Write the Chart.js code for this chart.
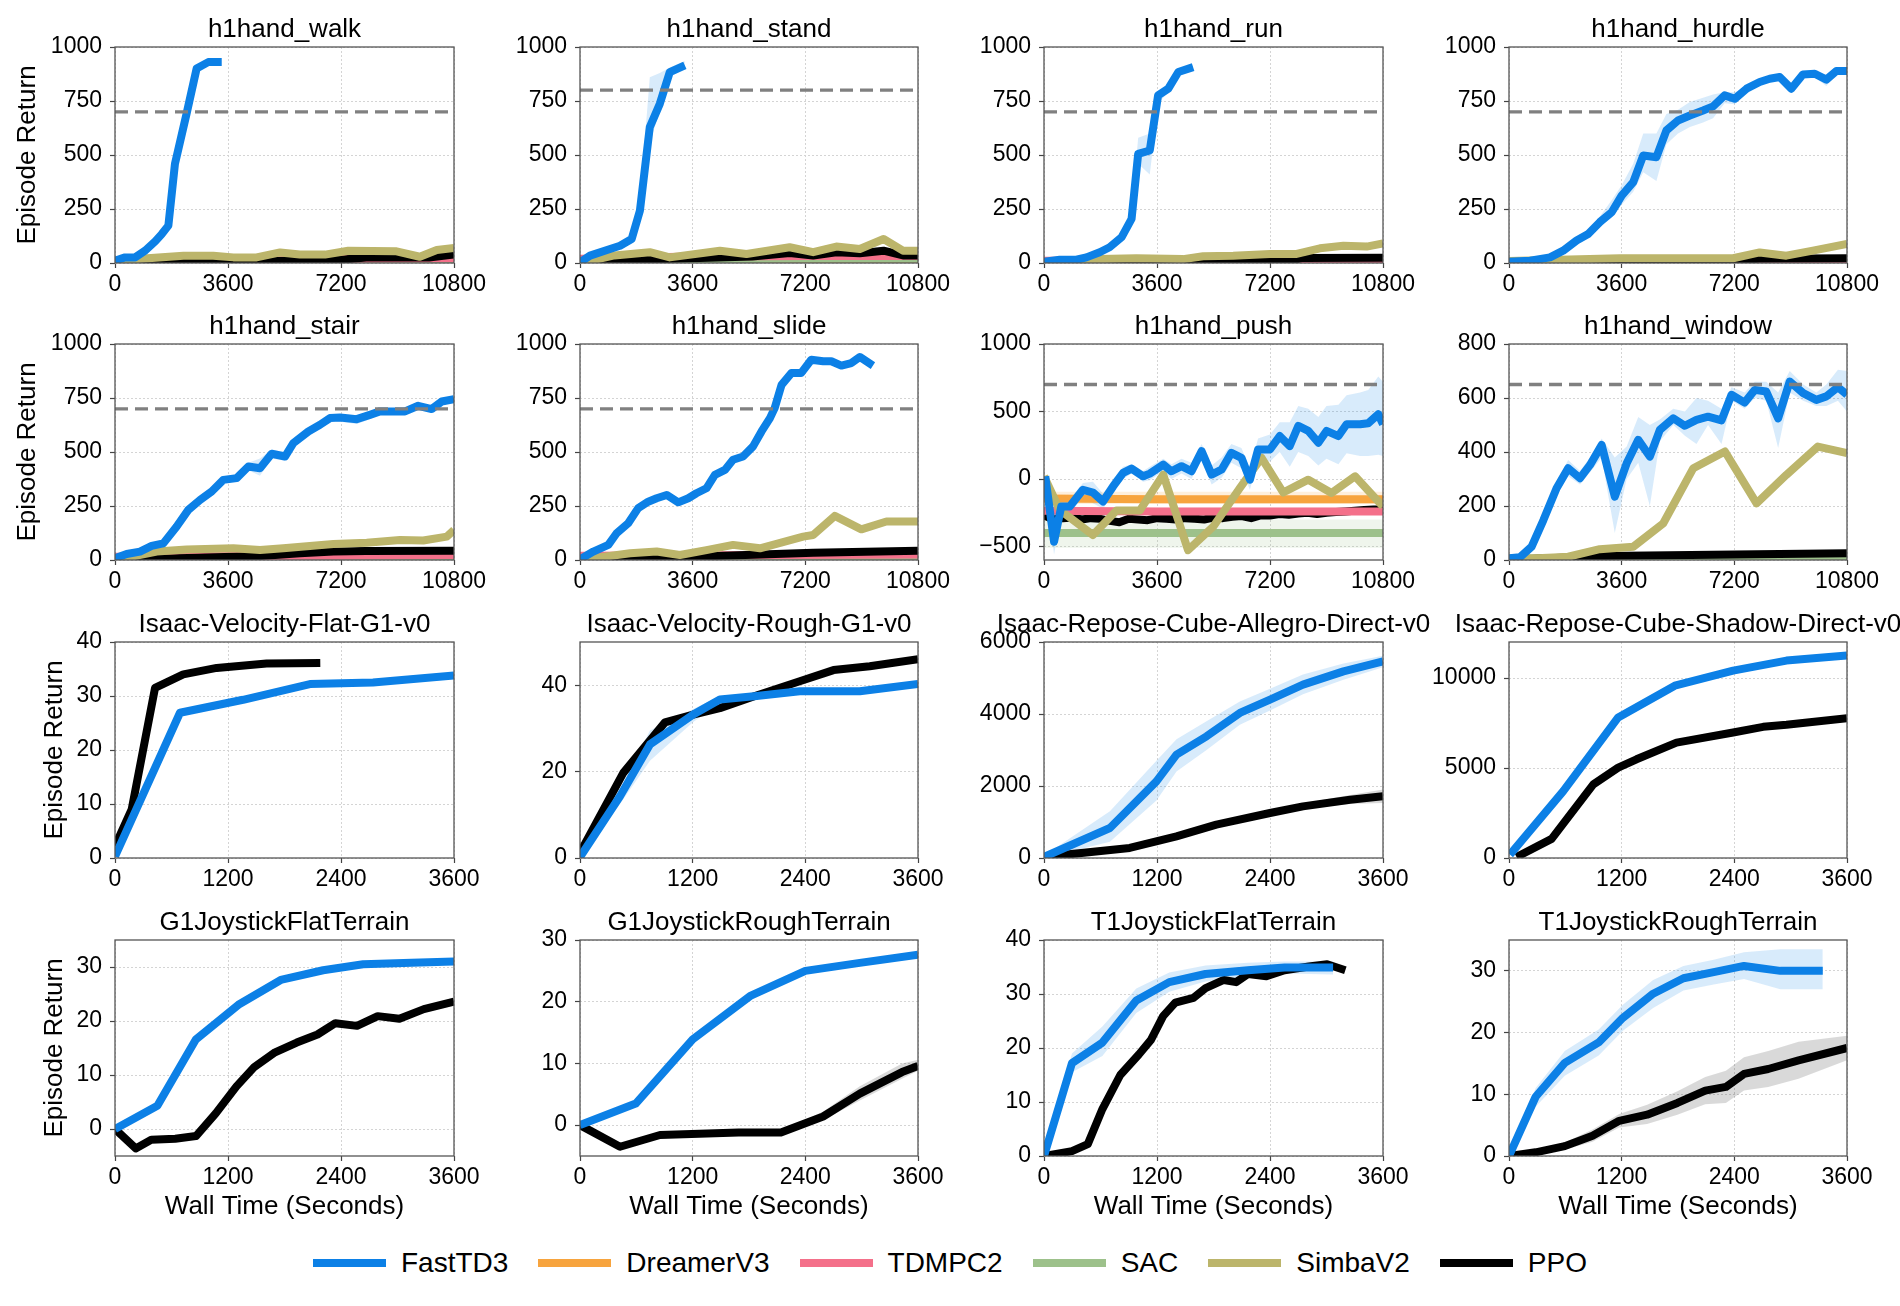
<!DOCTYPE html>
<html><head><meta charset="utf-8">
<script src="https://cdn.jsdelivr.net/npm/chart.js@4.4.1/dist/chart.umd.min.js"></script>
<style>
html,body{margin:0;padding:0;background:#fff;width:1900px;height:1306px;overflow:hidden;position:relative;font-family:"Liberation Sans",Arial,sans-serif}
canvas{position:absolute}
#legend{position:absolute;left:0;top:1243px;width:1900px;height:40px;display:flex;justify-content:center;align-items:center;font-size:28px;color:#000}
#legend .it{display:flex;align-items:center;margin:0 15px}
#legend i{display:inline-block;width:73px;height:8px;margin-right:15px}
</style></head><body>
<div id="legend"></div>
<script>
// ---------- categories / styling keys ----------
const SERIES = ['FastTD3','DreamerV3','TDMPC2','SAC','SimbaV2','PPO'];
const COLORS = {FastTD3:'#0c80e6',DreamerV3:'#f7a43e',TDMPC2:'#f4708a',SAC:'#9dc18b',SimbaV2:'#bcb56b',PPO:'#000000'};
const BANDS = {FastTD3:'rgba(12,128,230,0.16)',DreamerV3:'rgba(247,164,62,0.18)',TDMPC2:'rgba(244,112,138,0.16)',SAC:'rgba(157,193,139,0.16)',SimbaV2:'rgba(188,181,107,0.16)',PPO:'rgba(0,0,0,0.15)'};

// ---------- tick labels ----------
const X_LONG = [0,3600,7200,10800];
const X_SHORT = [0,1200,2400,3600];
const Y_1000 = [0,250,500,750,1000];
const Y_PUSH = [-500,0,500,1000];
const Y_800 = [0,200,400,600,800];
const Y_40 = [0,10,20,30,40];
const Y_ROUGH = [0,20,40];
const Y_ALLEGRO = [0,2000,4000,6000];
const Y_SHADOW = [0,5000,10000];
const Y_30 = [0,10,20,30];

// ---------- h1hand_walk ----------
const walk_fast_t = [0,320,640,960,1280,1490,1700,1910,2280,2600,2970,3400];
const walk_fast   = [11,26,26,57,100,134,173,459,691,900,930,930];
const walk_simba_t = [0,690,2180,3130,3770,4510,5260,5890,6690,7430,8970,9710,10250,10800];
const walk_simba   = [5,18,34,34,26,26,49,39,39,57,54,29,60,70];
const walk_ppo_t = [0,3600,7200,8000,9000,10000,10800];
const walk_ppo   = [0,5,15,25,25,25,40];
const walk_low_t = [0,3600,7200,10800];
const walk_tdmpc2 = [5,8,20,22];
const walk_sac = [4,5,8,10];
const walk_dreamer = [2,3,5,6];

// ---------- h1hand_stand ----------
const stand_fast_t = [0,320,960,1280,1650,1915,2230,2550,2870,3350];
const stand_fast   = [3,34,65,80,111,243,629,737,884,915];
const stand_fast_hi = [5,40,70,88,125,290,860,880,905,935];
const stand_fast_lo = [0,28,60,72,100,220,560,700,860,900];
const stand_simba_t = [0,1100,2230,2870,4470,5320,6700,7450,8190,8940,9700,10320,10800];
const stand_simba   = [0,35,50,26,57,42,73,50,76,65,111,57,57];
const stand_ppo_t = [0,3000,5500,6700,7450,8190,8940,9700,10320,10800];
const stand_ppo   = [0,20,30,46,35,50,45,57,35,35];
const stand_low_t = [0,3600,7200,10800];
const stand_tdmpc2 = [20,30,32,32];
const stand_sac = [15,18,20,20];
const stand_dreamer = [8,10,12,12];

// ---------- h1hand_run ----------
const run_fast_t = [0,500,1030,1350,1775,2090,2470,2790,3000,3370,3635,3960,4280,4750];
const run_fast   = [6,15,15,26,50,73,119,204,505,521,776,807,884,907];
const run_fast_hi = [8,18,18,30,55,80,130,230,580,600,790,830,895,915];
const run_fast_lo = [4,12,12,22,45,66,108,180,460,410,740,790,870,900];
const run_simba_t = [0,1775,2940,4430,5070,6030,7200,8050,8790,9540,10280,10800];
const run_simba   = [0,18,22,18,31,34,42,42,68,80,76,91];
const run_ppo_t = [0,4000,8000,8200,10800];
const run_ppo   = [0,10,15,23,24];
const run_low_t = [0,10800];
const run_tdmpc2 = [10,15];
const run_sac = [5,10];
const run_dreamer = [3,6];

// ---------- h1hand_hurdle ----------
const hurdle_fast_t = [0,670,1310,1730,2160,2530,2900,3280,3600,3970,4290,4710,5030,5400,5780,6200,6520,6890,7210,7590,8010,8330,8650,9020,9390,9770,10140,10460,10800];
const hurdle_fast   = [6,11,26,57,104,134,189,235,312,374,498,490,614,660,683,706,725,776,760,807,838,853,861,807,873,876,849,889,889];
const hurdle_fast_hi = [8,14,30,62,112,150,215,290,360,460,600,600,690,710,745,765,780,790,790,815,850,865,870,830,885,885,870,900,900];
const hurdle_fast_lo = [4,8,22,52,96,125,170,210,270,330,420,380,550,600,630,650,670,740,735,790,825,845,850,790,860,860,820,880,880];
const hurdle_simba_t = [0,3540,7160,8010,8860,9710,10800];
const hurdle_simba   = [9,22,22,49,34,57,88];
const hurdle_ppo_t = [0,7200,8000,10800];
const hurdle_ppo   = [0,10,20,22];
const hurdle_low_t = [0,10800];
const hurdle_tdmpc2 = [8,15];
const hurdle_sac = [5,10];
const hurdle_dreamer = [3,5];

// ---------- h1hand_stair ----------
const stair_fast_t = [0,372,796,1168,1540,1965,2336,2708,3080,3451,3876,4248,4619,4991,5416,5681,6159,6531,6850,7170,7700,8120,8440,9240,9660,10090,10410,10800];
const stair_fast   = [8,28,39,65,77,155,232,278,317,371,379,433,425,492,479,541,595,626,657,660,652,672,688,688,714,699,734,745];
const stair_fast_hi = [10,32,44,70,82,170,250,300,340,385,395,450,470,510,500,560,610,640,670,675,670,690,700,705,725,712,745,755];
const stair_fast_lo = [6,24,34,60,72,140,215,260,295,355,365,415,390,470,460,520,580,612,640,640,630,652,672,672,702,688,722,735];
const stair_simba_t = [0,1330,2280,3770,4620,5360,6960,8020,9080,9820,10570,10800];
const stair_simba   = [0,39,49,54,46,54,74,80,93,90,108,139];
const stair_ppo_t = [0,3770,4600,5890,6960,8000,10800];
const stair_ppo   = [0,15,18,31,39,42,43];
const stair_low_t = [0,10800];
const stair_tdmpc2 = [15,23];
const stair_sac = [12,15];
const stair_dreamer = [5,8];

// ---------- h1hand_slide ----------
const slide_fast_t = [0,425,905,1170,1540,1860,2180,2450,2770,3140,3460,3720,4040,4310,4630,4890,5210,5530,5800,6070,6220,6440,6760,7070,7390,7770,8030,8350,8670,8940,9360];
const slide_fast   = [3,39,70,124,170,240,270,286,301,267,286,309,332,394,417,464,479,526,595,657,703,811,866,866,927,920,920,900,912,940,900];
const slide_simba_t = [0,1600,2450,3190,4040,4890,5750,7130,7450,8140,8990,9790,10800];
const slide_simba   = [0,31,39,23,46,70,54,108,116,204,142,178,178];
const slide_ppo_t = [0,3620,7450,10800];
const slide_ppo   = [0,15,34,43];
const slide_low_t = [0,10800];
const slide_tdmpc2 = [20,25];
const slide_sac = [12,15];
const slide_dreamer = [5,7];

// ---------- h1hand_push ----------
const push_fast_t = [40,320,550,820,1240,1560,1880,2200,2520,2790,3160,3370,3800,4060,4380,4700,5020,5340,5660,5970,6290,6560,6820,7200,7510,7830,8100,8420,8740,9000,9380,9640,10070,10330,10650,10800];
const push_fast   = [20,-465,-204,-204,-80,-100,-167,-55,45,77,20,40,107,57,95,57,206,32,70,194,157,-5,219,219,318,244,393,356,269,356,318,405,405,413,480,405];
const push_fast_hi = [40,-380,-150,-150,-30,-20,-110,0,90,110,60,90,150,110,150,120,260,100,160,260,230,80,300,330,420,420,540,520,460,540,550,620,640,660,760,720];
const push_fast_lo = [0,-560,-260,-260,-130,-180,-220,-110,0,40,-20,-10,60,0,40,0,150,-40,10,120,80,-80,140,130,200,90,200,170,100,150,110,190,170,170,180,170];
const push_simba_t = [0,500,1560,2310,3050,3800,4590,5390,6240,6930,7620,8420,9160,9910,10800];
const push_simba   = [20,-229,-415,-234,-234,32,-527,-353,-67,157,-100,-5,-104,20,-204];
const push_flat_t = [0,3600,7200,10800];
const push_dreamer    = [-145,-150,-150,-150];
const push_dreamer_hi = [-95,-95,-95,-95];
const push_dreamer_lo = [-185,-185,-185,-185];
const push_tdmpc2    = [-235,-240,-240,-240];
const push_tdmpc2_hi = [-210,-212,-212,-212];
const push_tdmpc2_lo = [-265,-265,-265,-265];
const push_sac    = [-400,-400,-400,-400];
const push_sac_hi = [-300,-300,-300,-300];
const push_sac_lo = [-510,-510,-510,-510];
const push_ppo_t = [0,300,600,900,1200,1500,1800,2100,2400,2700,3000,3300,3600,3900,4200,4500,4800,5100,5400,5700,6000,6300,6600,6900,7200,7500,7800,8100,8400,8700,9000,9300,9600,9900,10200,10500,10800];
const push_ppo   = [-270,-300,-290,-285,-300,-290,-295,-310,-320,-295,-300,-305,-290,-295,-300,-290,-295,-300,-285,-290,-280,-275,-290,-270,-270,-260,-265,-255,-250,-260,-250,-245,-240,-235,-230,-225,-225];

// ---------- h1hand_window ----------
const window_fast_t = [0,350,720,1100,1520,1890,2270,2590,2960,3380,3760,4130,4500,4820,5250,5620,5990,6360,6790,7110,7530,7850,8220,8600,8970,9400,9820,10140,10510,10800];
const window_fast   = [6,10,49,148,266,340,303,352,426,235,358,445,383,482,525,497,519,531,517,612,583,630,624,525,661,618,593,606,640,612];
const window_fast_hi = [8,14,60,170,290,370,330,380,450,380,420,530,500,520,560,550,600,590,560,640,620,660,660,620,700,650,620,650,705,700];
const window_fast_lo = [4,6,40,130,240,310,280,325,380,100,300,360,200,440,500,460,430,500,430,590,560,600,590,415,620,590,570,570,590,550];
const window_simba_t = [0,1420,1890,2900,3970,4930,5890,6900,7910,8860,9870,10800];
const window_simba   = [2,9,12,40,49,136,340,402,210,315,420,396];
const window_ppo_t = [0,3000,7200,10800];
const window_ppo   = [0,15,20,25];
const window_low_t = [0,10800];
const window_tdmpc2 = [5,10];
const window_sac = [6,14];
const window_dreamer = [3,6];

// ---------- Isaac-Velocity-Flat-G1-v0 ----------
const iflat_fast_t = [0,690,1360,2070,2740,3600];
const iflat_fast   = [0.3,26.9,29.3,32.2,32.5,33.8];
const iflat_ppo_t = [0,177,425,725,1080,1610,2180];
const iflat_ppo   = [2.2,9,31.5,34,35.2,36,36.1];

// ---------- Isaac-Velocity-Rough-G1-v0 ----------
const irough_fast_t = [0,426,745,1206,1490,1880,2340,2980,3600];
const irough_fast   = [0.2,14.3,26.3,33.2,36.7,37.5,38.6,38.6,40.3];
const irough_fast_hi = [0.5,16,29.5,34.5,37.5,38.2,39.2,39.2,40.8];
const irough_fast_lo = [0,12.5,22.5,31.5,35.8,36.8,38,38,39.8];
const irough_ppo_t = [0,461,905,1206,1490,1880,2340,2700,3086,3600];
const irough_ppo   = [1.2,19.7,31.4,33.2,34.7,37.6,40.9,43.5,44.4,46];

// ---------- Isaac-Repose-Cube-Allegro-Direct-v0 ----------
const allegro_fast_t = [0,700,1194,1407,1726,2080,2400,2750,3180,3600];
const allegro_fast   = [28,833,2130,2870,3380,4030,4400,4815,5185,5460];
const allegro_fast_hi = [60,1300,2700,3300,3800,4350,4700,5100,5400,5620];
const allegro_fast_lo = [0,450,1600,2400,3000,3700,4100,4550,4950,5300];
const allegro_ppo_t = [60,910,1407,1830,2400,2750,3250,3600];
const allegro_ppo   = [46,278,602,926,1250,1435,1620,1713];
const allegro_ppo_hi = [60,300,640,960,1300,1520,1750,1900];
const allegro_ppo_lo = [30,250,570,890,1200,1370,1500,1530];

// ---------- Isaac-Repose-Cube-Shadow-Direct-v0 ----------
const shadow_fast_t = [10,578,1163,1766,2387,2955,3600];
const shadow_fast   = [186,3717,7807,9572,10409,10967,11245];
const shadow_ppo_t = [80,454,898,1163,1358,1784,2387,2707,2955,3600];
const shadow_ppo   = [56,1060,4089,5019,5483,6413,6970,7286,7398,7770];

// ---------- G1JoystickFlatTerrain ----------
const g1flat_fast_t = [0,450,860,1310,1760,2210,2635,3150,3600];
const g1flat_fast   = [0,4.3,16.6,23,27.6,29.4,30.5,30.8,31];
const g1flat_ppo_t = [0,220,385,640,860,1070,1290,1480,1700,1930,2150,2340,2570,2790,3020,3280,3600];
const g1flat_ppo   = [0,-3.6,-2,-1.8,-1.3,2.9,7.9,11.5,14.2,16,17.5,19.6,19.1,20.9,20.4,22.2,23.6];

// ---------- G1JoystickRoughTerrain ----------
const g1rough_fast_t = [0,594,1200,1820,2400,2980,3600];
const g1rough_fast   = [0,3.5,13.9,21,25,26.3,27.6];
const g1rough_ppo_t = [0,426,852,1690,2140,2590,2980,3430,3600];
const g1rough_ppo   = [0,-3.5,-1.6,-1.2,-1.2,1.4,5.1,8.6,9.6];
const g1rough_ppo_hi = [0,-3.3,-1.4,-1,-1,2.2,6.3,10,10.6];
const g1rough_ppo_lo = [0,-3.7,-1.8,-1.4,-1.4,0.8,4,7.5,8.8];

// ---------- T1JoystickFlatTerrain ----------
const t1flat_fast_t = [0,297,620,980,1330,1715,2165,2555,3070];
const t1flat_fast   = [0,17.2,21,28.8,32.2,33.7,34.4,34.9,34.9];
const t1flat_fast_hi = [0.5,19,24,31,34,35.3,35.8,36,36];
const t1flat_fast_lo = [0,15.5,18.5,26.5,30.4,32.3,33,33.8,33.6];
const t1flat_ppo_t = [0,297,465,620,810,1007,1136,1265,1394,1587,1716,1910,2040,2168,2362,2555,2813,3007,3200];
const t1flat_ppo   = [0,0.9,2.2,8.7,15,18.8,21.5,25.9,28.4,29.3,31.1,32.6,32.2,33.7,33.3,34.4,35.1,35.5,34.4];

// ---------- T1JoystickRoughTerrain ----------
const t1rough_fast_t = [0,284,594,955,1213,1535,1858,2180,2503,2890,3342];
const t1rough_fast   = [0,9.6,15.1,18.4,22.4,26.3,28.8,29.8,30.8,30,30];
const t1rough_fast_hi = [0.5,11,17,20.5,24.5,28.5,30.8,31.8,33,33.5,33.5];
const t1rough_fast_lo = [0,8,13,16.3,20.3,24,26.8,27.8,28.7,27,27];
const t1rough_ppo_t = [0,284,594,890,1174,1471,1794,2090,2310,2503,2761,3084,3600];
const t1rough_ppo   = [0,0.6,1.6,3.3,5.7,6.7,8.6,10.6,11.2,13.3,14.1,15.5,17.5];
const t1rough_ppo_hi = [0.2,1,2.2,4.3,6.8,8.3,10.5,12.8,13.8,16,17,18.5,19.5];
const t1rough_ppo_lo = [0,0.2,1,2.3,4.6,5.2,6.7,8.4,8.6,10.6,11.2,12.5,15.5];

// ---------- panels (built from the arrays above); lines listed top-most first ----------
const F='FastTD3',D='DreamerV3',T='TDMPC2',S='SAC',Sb='SimbaV2',P='PPO';
const panels = [
 {title:'h1hand_walk',col:0,row:0,xt:X_LONG,ymin:0,ymax:1000,yt:Y_1000,ref:700,
  lines:[[F,walk_fast_t,walk_fast],[Sb,walk_simba_t,walk_simba],[P,walk_ppo_t,walk_ppo],[T,walk_low_t,walk_tdmpc2],[S,walk_low_t,walk_sac],[D,walk_low_t,walk_dreamer]],bands:[]},
 {title:'h1hand_stand',col:1,row:0,xt:X_LONG,ymin:0,ymax:1000,yt:Y_1000,ref:800,
  lines:[[F,stand_fast_t,stand_fast],[Sb,stand_simba_t,stand_simba],[P,stand_ppo_t,stand_ppo],[T,stand_low_t,stand_tdmpc2],[S,stand_low_t,stand_sac],[D,stand_low_t,stand_dreamer]],
  bands:[[F,stand_fast_t,stand_fast_lo,stand_fast_hi]]},
 {title:'h1hand_run',col:2,row:0,xt:X_LONG,ymin:0,ymax:1000,yt:Y_1000,ref:700,
  lines:[[F,run_fast_t,run_fast],[Sb,run_simba_t,run_simba],[P,run_ppo_t,run_ppo],[T,run_low_t,run_tdmpc2],[S,run_low_t,run_sac],[D,run_low_t,run_dreamer]],
  bands:[[F,run_fast_t,run_fast_lo,run_fast_hi]]},
 {title:'h1hand_hurdle',col:3,row:0,xt:X_LONG,ymin:0,ymax:1000,yt:Y_1000,ref:700,
  lines:[[F,hurdle_fast_t,hurdle_fast],[Sb,hurdle_simba_t,hurdle_simba],[P,hurdle_ppo_t,hurdle_ppo],[T,hurdle_low_t,hurdle_tdmpc2],[S,hurdle_low_t,hurdle_sac],[D,hurdle_low_t,hurdle_dreamer]],
  bands:[[F,hurdle_fast_t,hurdle_fast_lo,hurdle_fast_hi]]},
 {title:'h1hand_stair',col:0,row:1,xt:X_LONG,ymin:0,ymax:1000,yt:Y_1000,ref:700,
  lines:[[F,stair_fast_t,stair_fast],[Sb,stair_simba_t,stair_simba],[P,stair_ppo_t,stair_ppo],[T,stair_low_t,stair_tdmpc2],[S,stair_low_t,stair_sac],[D,stair_low_t,stair_dreamer]],
  bands:[[F,stair_fast_t,stair_fast_lo,stair_fast_hi]]},
 {title:'h1hand_slide',col:1,row:1,xt:X_LONG,ymin:0,ymax:1000,yt:Y_1000,ref:700,
  lines:[[F,slide_fast_t,slide_fast],[Sb,slide_simba_t,slide_simba],[P,slide_ppo_t,slide_ppo],[T,slide_low_t,slide_tdmpc2],[S,slide_low_t,slide_sac],[D,slide_low_t,slide_dreamer]],bands:[]},
 {title:'h1hand_push',col:2,row:1,xt:X_LONG,ymin:-600,ymax:1000,yt:Y_PUSH,ref:700,
  lines:[[F,push_fast_t,push_fast],[Sb,push_simba_t,push_simba],[D,push_flat_t,push_dreamer],[T,push_flat_t,push_tdmpc2],[P,push_ppo_t,push_ppo],[S,push_flat_t,push_sac]],
  bands:[[F,push_fast_t,push_fast_lo,push_fast_hi],[D,push_flat_t,push_dreamer_lo,push_dreamer_hi],[T,push_flat_t,push_tdmpc2_lo,push_tdmpc2_hi],[S,push_flat_t,push_sac_lo,push_sac_hi]]},
 {title:'h1hand_window',col:3,row:1,xt:X_LONG,ymin:0,ymax:800,yt:Y_800,ref:650,
  lines:[[F,window_fast_t,window_fast],[Sb,window_simba_t,window_simba],[P,window_ppo_t,window_ppo],[S,window_low_t,window_sac],[T,window_low_t,window_tdmpc2],[D,window_low_t,window_dreamer]],
  bands:[[F,window_fast_t,window_fast_lo,window_fast_hi]]},
 {title:'Isaac-Velocity-Flat-G1-v0',col:0,row:2,xt:X_SHORT,ymin:0,ymax:40,yt:Y_40,
  lines:[[F,iflat_fast_t,iflat_fast],[P,iflat_ppo_t,iflat_ppo]],bands:[]},
 {title:'Isaac-Velocity-Rough-G1-v0',col:1,row:2,xt:X_SHORT,ymin:0,ymax:50,yt:Y_ROUGH,
  lines:[[F,irough_fast_t,irough_fast],[P,irough_ppo_t,irough_ppo]],bands:[[F,irough_fast_t,irough_fast_lo,irough_fast_hi]]},
 {title:'Isaac-Repose-Cube-Allegro-Direct-v0',col:2,row:2,xt:X_SHORT,ymin:0,ymax:6000,yt:Y_ALLEGRO,
  lines:[[F,allegro_fast_t,allegro_fast],[P,allegro_ppo_t,allegro_ppo]],
  bands:[[F,allegro_fast_t,allegro_fast_lo,allegro_fast_hi],[P,allegro_ppo_t,allegro_ppo_lo,allegro_ppo_hi]]},
 {title:'Isaac-Repose-Cube-Shadow-Direct-v0',col:3,row:2,xt:X_SHORT,ymin:0,ymax:12000,yt:Y_SHADOW,
  lines:[[F,shadow_fast_t,shadow_fast],[P,shadow_ppo_t,shadow_ppo]],bands:[]},
 {title:'G1JoystickFlatTerrain',col:0,row:3,xt:X_SHORT,ymin:-5,ymax:35,yt:Y_30,
  lines:[[F,g1flat_fast_t,g1flat_fast],[P,g1flat_ppo_t,g1flat_ppo]],bands:[]},
 {title:'G1JoystickRoughTerrain',col:1,row:3,xt:X_SHORT,ymin:-5,ymax:30,yt:Y_30,
  lines:[[F,g1rough_fast_t,g1rough_fast],[P,g1rough_ppo_t,g1rough_ppo]],bands:[[P,g1rough_ppo_t,g1rough_ppo_lo,g1rough_ppo_hi]]},
 {title:'T1JoystickFlatTerrain',col:2,row:3,xt:X_SHORT,ymin:0,ymax:40,yt:Y_40,
  lines:[[F,t1flat_fast_t,t1flat_fast],[P,t1flat_ppo_t,t1flat_ppo]],bands:[[F,t1flat_fast_t,t1flat_fast_lo,t1flat_fast_hi]]},
 {title:'T1JoystickRoughTerrain',col:3,row:3,xt:X_SHORT,ymin:0,ymax:35,yt:Y_30,
  lines:[[F,t1rough_fast_t,t1rough_fast],[P,t1rough_ppo_t,t1rough_ppo]],
  bands:[[F,t1rough_fast_t,t1rough_fast_lo,t1rough_fast_hi],[P,t1rough_ppo_t,t1rough_ppo_lo,t1rough_ppo_hi]]}
];

// ---------- layout ----------
const FONT = '"Liberation Sans", Arial, sans-serif';
const COL_LEFT = [115,580,1044,1509];
const COL_W = [339,338,339,338];
const ROW_TOP = [47,344,642,940];
const PLOT_H = 216;
const YW = 110, TOPPAD = 45, RPAD = 60;
const LINE_W = 8;

Chart.defaults.font.family = FONT;
Chart.defaults.color = '#000';

const zip = (xs, ys) => xs.map((x, i) => ({x, y: ys[i]}));
const fmt = v => v < 0 ? '\u2212' + Math.abs(v) : String(v);

const framePlugin = {
  id: 'frameTitle',
  afterDraw(chart, args, opts) {
    const {ctx, chartArea: a} = chart;
    ctx.save();
    ctx.strokeStyle = '#555'; ctx.lineWidth = 1.3;
    ctx.strokeRect(a.left, a.top, a.right - a.left, a.bottom - a.top);
    ctx.fillStyle = '#000'; ctx.font = '26px ' + FONT;
    ctx.textAlign = 'center'; ctx.textBaseline = 'alphabetic';
    ctx.fillText(opts.text, (a.left + a.right) / 2, a.top - 10);
    ctx.restore();
  }
};

panels.forEach(p => {
  const xh = p.row === 3 ? 80 : 45;
  const W = YW + COL_W[p.col] + RPAD, H = TOPPAD + PLOT_H + xh;
  const cv = document.createElement('canvas');
  cv.width = W; cv.height = H;
  cv.style.left = (COL_LEFT[p.col] - YW) + 'px';
  cv.style.top = (ROW_TOP[p.row] - TOPPAD) + 'px';
  cv.style.width = W + 'px'; cv.style.height = H + 'px';
  document.body.appendChild(cv);

  const ds = [];
  if (p.ref !== undefined) {
    ds.push({label:'ref', data: zip([p.xt[0], p.xt[p.xt.length-1]], [p.ref, p.ref]), borderColor:'#808080', borderWidth:3.3, borderDash:[13,7], pointRadius:0, fill:false});
  }
  p.lines.forEach(([k, xs, ys]) => {
    ds.push({label:k, data: zip(xs, ys), borderColor: COLORS[k], borderWidth: LINE_W, pointRadius: 0, fill: false, tension: 0, borderJoinStyle: 'round', borderCapStyle: 'butt'});
  });
  p.bands.forEach(([k, xs, lo, hi]) => {
    ds.push({label:k+'_hi', data: zip(xs, hi), borderWidth: 0, borderColor:'rgba(0,0,0,0)', backgroundColor: BANDS[k], pointRadius: 0, fill: '+1', tension: 0});
    ds.push({label:k+'_lo', data: zip(xs, lo), borderWidth: 0, borderColor:'rgba(0,0,0,0)', pointRadius: 0, fill: false, tension: 0});
  });

  const yTitlePad = p.row < 2 ? 7.4 : 34.4;
  new Chart(cv, {
    type: 'line',
    data: {datasets: ds},
    options: {
      responsive: false, animation: false, devicePixelRatio: 1,
      layout: {padding: {top: TOPPAD, right: RPAD, left: 0, bottom: 0}},
      plugins: {legend: {display: false}, tooltip: {enabled: false}, title: {display: false}, frameTitle: {text: p.title}},
      scales: {
        x: {
          type: 'linear', min: p.xt[0], max: p.xt[p.xt.length-1],
          afterBuildTicks: s => { s.ticks = p.xt.map(v => ({value: v})); },
          afterFit: s => { s.height = xh; },
          ticks: {font: {size: 23}, color: '#000', padding: 3, maxRotation: 0, autoSkip: false, callback: fmt},
          grid: {color: '#d4d4d4', lineWidth: 1, drawTicks: true, tickLength: 5, tickColor: '#444', tickWidth: 1.2, tickBorderDash: []},
          border: {display: false, dash: [2, 2]},
          title: {display: p.row === 3, text: 'Wall Time (Seconds)', font: {size: 26}, color: '#000', padding: {top: 0, bottom: 13.4}}
        },
        y: {
          type: 'linear', min: p.ymin, max: p.ymax,
          afterBuildTicks: s => { s.ticks = p.yt.map(v => ({value: v})); },
          afterFit: s => { s.width = YW; },
          ticks: {font: {size: 23}, color: '#000', padding: 8, autoSkip: false, callback: fmt},
          grid: {color: '#d4d4d4', lineWidth: 1, drawTicks: true, tickLength: 5, tickColor: '#444', tickWidth: 1.2, tickBorderDash: []},
          border: {display: false, dash: [2, 2]},
          title: {display: p.col === 0, text: 'Episode Return', font: {size: 26}, color: '#000', padding: {top: yTitlePad, bottom: 0}}
        }
      }
    },
    plugins: [framePlugin]
  });
});

// ---------- legend ----------
const leg = document.getElementById('legend');
SERIES.forEach(k => {
  const it = document.createElement('span'); it.className = 'it';
  const sw = document.createElement('i'); sw.style.background = COLORS[k];
  it.appendChild(sw); it.appendChild(document.createTextNode(k));
  leg.appendChild(it);
});
</script>
</body></html>
